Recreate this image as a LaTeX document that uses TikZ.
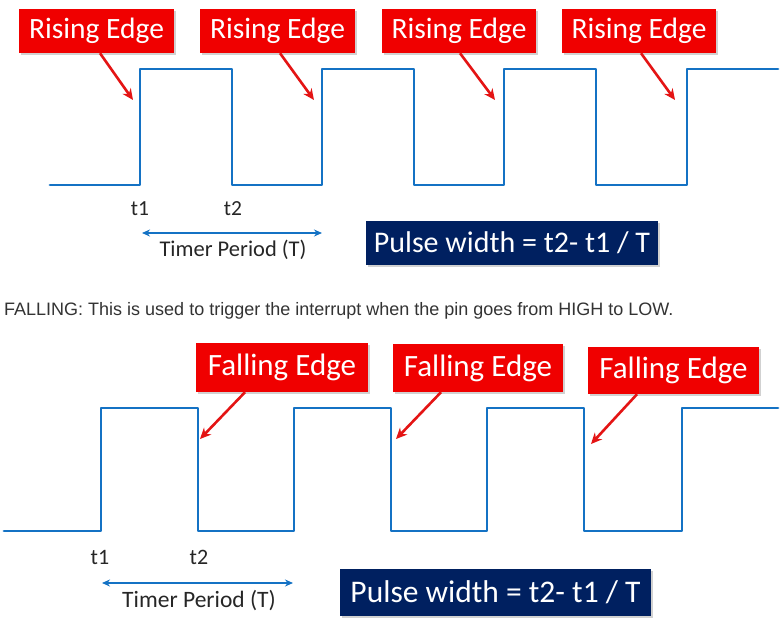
\documentclass[tikz,border=0pt]{standalone}
\usepackage{fontspec}
\setmainfont{Carlito}
\newfontfamily\arialfont{Liberation Sans}
\usetikzlibrary{arrows.meta,calc}
\definecolor{boxred}{RGB}{240,0,0}
\definecolor{arrred}{RGB}{228,20,20}
\definecolor{wave}{RGB}{20,114,196}
\definecolor{navy}{RGB}{0,32,96}
\tikzset{
  redbox/.style={fill=boxred, text=white, inner sep=0pt, font=\fontsize{29.5}{31}\selectfont},
  navybox/.style={fill=navy, text=white, inner sep=0pt, font=\fontsize{30}{32}\selectfont},
  wavel/.style={draw=wave, line width=2.8pt, line join=round, line cap=round},
  callout/.style={draw=arrred, line width=2.6pt, -{Stealth[length=11pt,width=10pt]}},
  period/.style={draw=wave, line width=2pt, {Stealth[length=8pt,width=7pt]}-{Stealth[length=8pt,width=7pt]}},
  tlabel/.style={inner sep=0pt, text=black!85, font=\fontsize{21.5}{23}\selectfont},
  shadowed/.style={preaction={fill=black, opacity=0.18, transform canvas={xshift=1.5pt,yshift=-2pt}}}
}
\begin{document}
\begin{tikzpicture}[x=1pt,y=-1pt]
\useasboundingbox (0,0) rectangle (783,636);
\fill[white] (0,0) rectangle (783,636);

% ---------- top panel ----------
\draw[wavel] (50,185) -- (140,185) -- (140,69) -- (232,69) -- (232,185) -- (322,185) -- (322,69)
  -- (414,69) -- (414,185) -- (504,185) -- (504,69) -- (596,69) -- (596,185) -- (687,185) -- (687,69) -- (778,69);

\node[redbox, shadowed, minimum width=155pt, minimum height=44pt] (r1) at (96.5,31) {Rising Edge};
\node[redbox, shadowed, minimum width=155pt, minimum height=44pt] (r2) at (277.5,31) {Rising Edge};
\node[redbox, shadowed, minimum width=154pt, minimum height=44pt] (r3) at (459,31) {Rising Edge};
\node[redbox, shadowed, minimum width=154pt, minimum height=44pt] (r4) at (639,31) {Rising Edge};

\coordinate (e1) at (133,100);
\coordinate (e2) at (314,100);
\coordinate (e3) at (495,100);
\coordinate (e4) at (675,100);
\draw[callout] ($(r1.south)+(3.5,0)$) -- (e1);
\draw[callout] ($(r2.south)+(2.5,0)$) -- (e2);
\draw[callout] ($(r3.south)+(1,0)$) -- (e3);
\draw[callout] ($(r4.south)+(2,0)$) -- (e4);

\node[tlabel] (t1a) at (140,209) {t1};
\node[tlabel] (t2a) at (233,209) {t2};
\coordinate (pa1) at (142,233);
\coordinate (pa2) at (322,233);
\draw[period] (pa1) -- (pa2);
\node[tlabel, font=\fontsize{22.5}{24}\selectfont] (tpa) at (233,250) {Timer Period (T)};

\node[navybox, shadowed, minimum width=292pt, minimum height=44pt] (pwa) at (512,243) {Pulse width = t2- t1 / T};

% ---------- caption ----------
\node[anchor=west, inner sep=0pt, text=black!80, font=\arialfont\fontsize{18}{20}\selectfont] (cap) at (4,310.5)
  {FALLING: This is used to trigger the interrupt when the pin goes from HIGH to LOW.};

% ---------- bottom panel ----------
\draw[wavel] (4,531) -- (101,531) -- (101,408) -- (198,408) -- (198,531) -- (294,531) -- (294,408)
  -- (391,408) -- (391,531) -- (487,531) -- (487,408) -- (584,408) -- (584,531) -- (682,531) -- (682,408) -- (778,408);

\node[redbox, shadowed, minimum width=172pt, minimum height=49pt, font=\fontsize{31}{33}\selectfont] (f1) at (282,367.5) {Falling Edge};
\node[redbox, shadowed, minimum width=170pt, minimum height=48pt, font=\fontsize{31}{33}\selectfont] (f2) at (478,368) {Falling Edge};
\node[redbox, shadowed, minimum width=171pt, minimum height=47pt, font=\fontsize{31}{33}\selectfont] (f3) at (673.5,370.5) {Falling Edge};

\coordinate (g1) at (200,439);
\coordinate (g2) at (396,439);
\coordinate (g3) at (591,444);
\draw[callout] ($(f1.south)+(-37,0)$) -- (g1);
\draw[callout] ($(f2.south)+(-37,0)$) -- (g2);
\draw[callout] ($(f3.south)+(-36.5,0)$) -- (g3);

\node[tlabel, font=\fontsize{22}{24}\selectfont] (t1b) at (100,557) {t1};
\node[tlabel, font=\fontsize{22}{24}\selectfont] (t2b) at (199,557) {t2};
\coordinate (pb1) at (102,583);
\coordinate (pb2) at (293,583);
\draw[period] (pb1) -- (pb2);
\node[tlabel, font=\fontsize{23.5}{25}\selectfont] (tpb) at (199,601) {Timer Period (T)};

\node[navybox, shadowed, minimum width=311pt, minimum height=47pt, font=\fontsize{31.5}{33}\selectfont] (pwb) at (495.5,592.5) {Pulse width = t2- t1 / T};
\end{tikzpicture}
\end{document}
